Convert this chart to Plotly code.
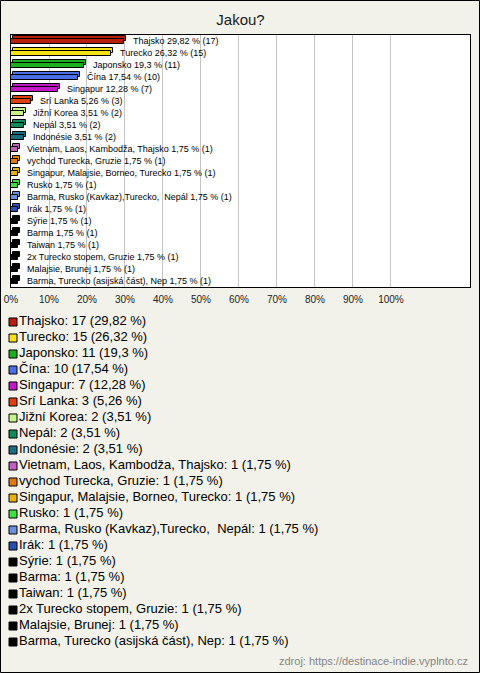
import plotly.graph_objects as go

# ---- data ----
categories = [
    "Thajsko", "Turecko", "Japonsko", "Čína", "Singapur", "Srí Lanka",
    "Jižní Korea", "Nepál", "Indonésie", "Vietnam, Laos, Kambodža, Thajsko",
    "vychod Turecka, Gruzie", "Singapur, Malajsie, Borneo, Turecko", "Rusko",
    "Barma, Rusko (Kavkaz),Turecko,\u00a0 Nepál", "Irák", "Sýrie", "Barma",
    "Taiwan", "2x Turecko stopem, Gruzie", "Malajsie, Brunej",
    "Barma, Turecko (asijská část), Nep",
]
counts = [17, 15, 11, 10, 7, 3, 2, 2, 2, 1, 1, 1, 1, 1, 1, 1, 1, 1, 1, 1, 1]
percents = [29.82, 26.32, 19.3, 17.54, 12.28, 5.26, 3.51, 3.51, 3.51,
            1.75, 1.75, 1.75, 1.75, 1.75, 1.75, 1.75, 1.75, 1.75, 1.75, 1.75, 1.75]
colors = [
    "#B81E0C", "#F7E21A", "#1CB01C", "#4A6FE6", "#C218C8", "#E0400C",
    "#C8F58A", "#138A5A", "#1A6E80", "#C060C0", "#E07A10", "#E6B010",
    "#40E040", "#6A90E0", "#2850B0", "#000000", "#000000", "#000000",
    "#000000", "#000000", "#000000",
]
tick_values = [0, 10, 20, 30, 40, 50, 60, 70, 80, 90, 100]
tick_labels = ["0%", "10%", "20%", "30%", "40%", "50%",
               "60%", "70%", "80%", "90%", "100%"]
title_text = "Jakou?"
source_text = "zdroj: https://destinace-indie.vyplnto.cz"

# ---- geometry ----
W, H = 480, 673
ML, MR, MT, MB = 11, 10, 35, 23
PW, PH = W - ML - MR, H - MT - MB
FONT = "Liberation Sans, Arial, sans-serif"
BG = "#F3F2EA"


def py(pix):
    return (H - MB - pix) / PH


def px(pix):
    return (pix - ML) / PW


def fmt(v):
    return ("%g" % v).replace(".", ",")


idx = list(range(len(categories)))
bar_labels = [f"{c} {fmt(p)} % ({n})" for c, p, n in zip(categories, percents, counts)]
legend_labels = [f"{c}: {n} ({fmt(p)} %)" for c, p, n in zip(categories, percents, counts)]

fig = go.Figure()

# back (3D) face of bars
fig.add_trace(go.Bar(
    orientation="h", x=percents, y=idx, base=0.5, width=0.42, offset=-0.38,
    marker=dict(color=colors, line=dict(color="#000000", width=1)),
    hoverinfo="skip", showlegend=False,
))
# front face
fig.add_trace(go.Bar(
    orientation="h", x=percents, y=idx, width=0.42, offset=-0.2,
    marker=dict(color=colors, line=dict(color="#000000", width=1)),
    showlegend=False,
))

# legend built as scatter on a second axis (x2 range expressed in page pixels)
fig.add_trace(go.Scatter(
    x=[13] * len(idx), y=idx, mode="markers+text",
    marker=dict(symbol="square", size=8, color=colors,
                line=dict(color="#000000", width=1)),
    text=legend_labels, textposition="middle right",
    textfont=dict(family=FONT, size=13, color="#000000"),
    xaxis="x2", yaxis="y2", cliponaxis=False, showlegend=False,
    hoverinfo="skip",
))

annotations = []
for i, (p, lab) in enumerate(zip(percents, bar_labels)):
    annotations.append(dict(
        x=p, y=i, xref="x", yref="y", text=lab, showarrow=False,
        xanchor="left", yanchor="middle", xshift=7,
        font=dict(family=FONT, size=9, color="#000000"),
    ))

annotations.append(dict(
    x=1, y=py(661), xref="paper", yref="paper", text=source_text,
    showarrow=False, xanchor="right", yanchor="middle",
    font=dict(family=FONT, size=11, color="#858585"),
))

main_bottom = py(287)
leg_top = py(314)
leg_bottom = py(650)

fig.update_layout(
    width=W, height=H,
    margin=dict(l=ML, r=MR, t=MT, b=MB, pad=0, autoexpand=False),
    paper_bgcolor=BG,
    plot_bgcolor="rgba(0,0,0,0)",
    barmode="overlay",
    bargap=0,
    title=dict(text=title_text, x=0.5, xref="paper", xanchor="center",
               y=1 - 20 / H, yref="container", yanchor="middle",
               font=dict(family=FONT, size=15, color="#1A1A1A")),
    font=dict(family=FONT, color="#000000"),
    xaxis=dict(range=[0, 120.8], tickvals=tick_values, ticktext=tick_labels,
               showgrid=True, gridcolor="#C4C4C4", gridwidth=1,
               zeroline=False, showline=True, linecolor="#000000", linewidth=1,
               mirror=True, ticks="", automargin=False, ticklabelstandoff=3,
               tickfont=dict(family=FONT, size=10, color="#222222"),
               domain=[0, 1], anchor="y", fixedrange=True),
    yaxis=dict(range=[20.5, -0.5], showticklabels=False, showgrid=False,
               zeroline=False, showline=True, linecolor="#000000", linewidth=1,
               mirror=True, ticks="", domain=[main_bottom, 1], anchor="x",
               automargin=False, fixedrange=True),
    xaxis2=dict(range=[ML, W - MR], visible=False, domain=[0, 1], anchor="y2",
                fixedrange=True),
    yaxis2=dict(range=[20.5, -0.5], visible=False, domain=[leg_bottom, leg_top],
                anchor="x2", fixedrange=True),
    annotations=annotations,
    shapes=[
        dict(type="rect", xref="x domain", yref="y domain", x0=0, x1=1, y0=0, y1=1,
             line=dict(width=0), fillcolor="#FFFFFF", layer="below"),
        dict(type="rect", xref="paper", yref="paper",
             x0=px(0.5), x1=px(W - 0.5), y0=py(H - 0.5), y1=py(0.5),
             line=dict(color="#000000", width=1), fillcolor="rgba(0,0,0,0)",
             layer="above"),
    ],
)

fig.write_html(
    "out.html",
    config={"displayModeBar": False},
    post_script="document.body.style.margin='0';document.body.style.overflow='hidden';",
)
